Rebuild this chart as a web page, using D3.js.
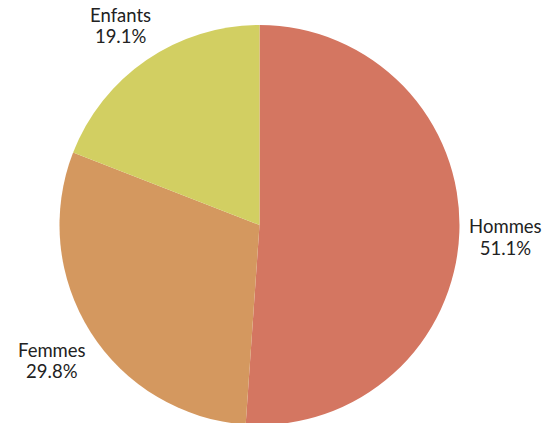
<!DOCTYPE html>
<html>
<head>
<meta charset="utf-8">
<script src="https://cdn.jsdelivr.net/npm/d3@7"></script>
<style>
  body { margin: 0; background: #fff; }
  svg { display: block; }
  text { font-family: Lato, "Open Sans", sans-serif; fill: #222; }
</style>
</head>
<body>
<svg width="545" height="423"></svg>
<script>
const categories = ["Hommes", "Femmes", "Enfants"];
const shares = [51.1, 29.8, 19.1];
const colors = ["#d47661", "#d4985f", "#d2cf62"];

const data = categories.map((c, i) => ({ name: c, value: shares[i], color: colors[i] }));

const svg = d3.select('svg');
const cx = 259.5, cy = 225, radius = 200;

const chart = svg.append('g')
    .attr('transform', `translate(${cx}, ${cy})`);

const pie = d3.pie().sort(null).value(d => d.value);
const arc = d3.arc().innerRadius(0).outerRadius(radius);
const labelArc = d3.arc().innerRadius(246).outerRadius(246);

const arcs = pie(data);

chart.selectAll('path')
    .data(arcs)
    .enter()
    .append('path')
    .attr('d', arc)
    .attr('fill', d => d.data.color);

const labels = chart.selectAll('text.label')
    .data(arcs)
    .enter()
    .append('text')
    .attr('class', 'label')
    .attr('text-anchor', 'middle')
    .attr('font-size', 18.5)
    .attr('transform', d => {
      const [x, y] = labelArc.centroid(d);
      return `translate(${x}, ${y})`;
    });

labels.append('tspan')
    .attr('x', 0)
    .attr('dy', '0em')
    .text(d => d.data.name);

labels.append('tspan')
    .attr('x', 0)
    .attr('dy', '1.14em')
    .text(d => d.data.value.toFixed(1) + '%');
</script>
</body>
</html>
